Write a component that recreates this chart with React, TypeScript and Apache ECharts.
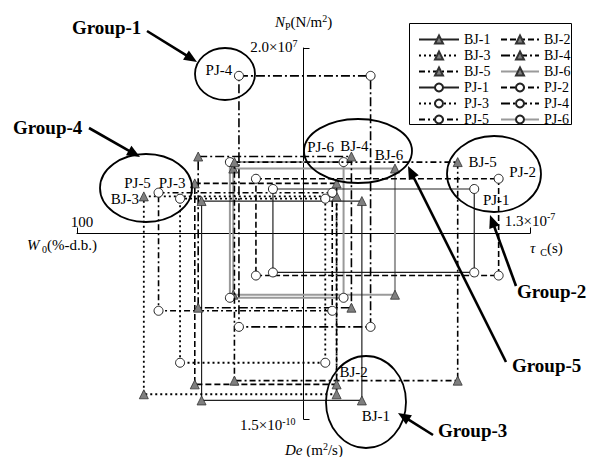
import React, { useEffect, useRef } from "react";
import * as echarts from "echarts";

// ---------- data ----------
const samples = ["BJ-1", "BJ-2", "BJ-3", "BJ-4", "BJ-5", "BJ-6", "PJ-1", "PJ-2", "PJ-3", "PJ-4", "PJ-5", "PJ-6"];
// initial moisture content W0 (%-d.b.) – left half-axis
const w0 = [45, 48, 70.5, 46.5, 30.5, 31, 13.5, 21, 54.5, 28.5, 64, 32.5];
// characteristic time tau_C (s) – right half-axis
const tauC = [3.35e-8, 1.9e-8, 1.9e-8, 2.75e-8, 8.85e-8, 5.25e-8, 9.8e-8, 1.12e-7, 1.25e-8, 3.85e-8, 1.65e-8, 2.3e-8];
// N_P (N/m2) – upper half-axis
const np = [3.5e6, 5.4e6, 4.0e6, 8.3e6, 7.7e6, 7.0e6, 4.8e6, 5.9e6, 3.75e6, 1.7e7, 4.4e6, 7.7e6];
// De (m2/s) – lower half-axis
const de = [1.35e-10, 1.22e-10, 1.3e-10, 6.0e-11, 1.19e-10, 4.95e-11, 3.15e-11, 3.4e-11, 1.045e-10, 7.55e-11, 6.25e-11, 5.2e-11];

// axis end values
const W0_MAX = 100;
const TAU_MAX = 1.3e-7;
const NP_MAX = 2.0e7;
const DE_MAX = 1.5e-10;

// tick labels (mantissa part, exponent)
const tickW0 = ["100", ""];
const tickTau = ["1.3×10", "-7"];
const tickNp = ["2.0×10", "7"];
const tickDe = ["1.5×10", "-10"];

const legendLeft = ["BJ-1", "BJ-3", "BJ-5", "PJ-1", "PJ-3", "PJ-5"];
const legendRight = ["BJ-2", "BJ-4", "BJ-6", "PJ-2", "PJ-4", "PJ-6"];

// ---------- styles / layout ----------
const FONT = '"Liberation Serif", "Times New Roman", serif';

const lineStyles: Record<string, any> = {
  "1": { color: "#222", width: 1.2, type: "solid" },
  "2": { color: "#000", width: 1.6, type: [6, 3] },
  "3": { color: "#000", width: 1.8, type: [2, 3] },
  "4": { color: "#000", width: 1.6, type: [9, 3, 2, 3] },
  "5": { color: "#000", width: 1.6, type: [6, 3, 2, 3] },
  "6": { color: "#9a9a9a", width: 2, type: "solid" },
};

// sample label: corner index (0 TL,1 TR,2 BR,3 BL) and offset of the text centre
const sampleLabels: Record<string, { corner: number; offset: [number, number] }> = {
  "PJ-4": { corner: 0, offset: [-20, -6] },
  "PJ-5": { corner: 0, offset: [-21, -10] },
  "PJ-3": { corner: 0, offset: [-8, -16] },
  "BJ-3": { corner: 0, offset: [-19, 3] },
  "PJ-6": { corner: 1, offset: [-23, -15] },
  "BJ-4": { corner: 1, offset: [3, -11] },
  "BJ-6": { corner: 1, offset: [-6, -14] },
  "BJ-5": { corner: 1, offset: [25, 0] },
  "PJ-2": { corner: 1, offset: [24, -7] },
  "PJ-1": { corner: 1, offset: [22, 11] },
  "BJ-2": { corner: 2, offset: [17, -12] },
  "BJ-1": { corner: 2, offset: [14, 16] },
};

const groupEllipses = [
  { cx: 225, cy: 74, rx: 30, ry: 26 },
  { cx: 146, cy: 188, rx: 46, ry: 34 },
  { cx: 358, cy: 151, rx: 54, ry: 32 },
  { cx: 494, cy: 174, rx: 47, ry: 38 },
  { cx: 366, cy: 402, rx: 40, ry: 46 },
];

const groupTexts = [
  { text: "Group-1", x: 72, y: 27, from: [147, 31], to: [197, 62] },
  { text: "Group-4", x: 13, y: 127, from: [89, 128], to: [140, 157] },
  { text: "Group-2", x: 517, y: 291, from: [516, 286], to: [490, 215] },
  { text: "Group-5", x: 512, y: 365, from: [506, 362], to: [408, 166] },
  { text: "Group-3", x: 438, y: 430, from: [433, 435], to: [398, 413] },
];

function corners(i: number): number[][] {
  const xl = -w0[i] / W0_MAX;
  const xr = tauC[i] / TAU_MAX;
  const yt = np[i] / NP_MAX;
  const yb = -de[i] / DE_MAX;
  return [
    [xl, yt],
    [xr, yt],
    [xr, yb],
    [xl, yb],
  ];
}

function arrow(x1: number, y1: number, x2: number, y2: number) {
  const dx = x2 - x1;
  const dy = y2 - y1;
  const L = Math.hypot(dx, dy);
  const ux = dx / L;
  const uy = dy / L;
  const hl = 13;
  const hw = 5.5;
  const bx = x2 - ux * hl;
  const by = y2 - uy * hl;
  return [
    { type: "line", z: 20, shape: { x1, y1, x2: bx + ux, y2: by + uy }, style: { stroke: "#000", lineWidth: 2.6 } },
    {
      type: "polygon",
      z: 20,
      shape: { points: [[x2, y2], [bx - uy * hw, by + ux * hw], [bx + uy * hw, by - ux * hw]] },
      style: { fill: "#000" },
    },
  ];
}

const richBase = {
  t: { fontFamily: FONT, fontSize: 15, color: "#000", lineHeight: 18 },
  i: { fontFamily: FONT, fontSize: 15, fontStyle: "italic", color: "#000", lineHeight: 18 },
  sup: { fontFamily: FONT, fontSize: 10, color: "#000", verticalAlign: "top", lineHeight: 11 },
  sub: { fontFamily: FONT, fontSize: 10, color: "#000", verticalAlign: "bottom", lineHeight: 10 },
};

function richText(x: number, y: number, text: string, align: string) {
  return { type: "text", z: 20, x, y, style: { text, rich: richBase, align, verticalAlign: "middle" } };
}

export default function App() {
  const ref = useRef<HTMLDivElement>(null);

  useEffect(() => {
    if (!ref.current) return;
    const chart = echarts.init(ref.current, undefined, { renderer: "svg" });

    const series: any[] = samples.map((name, i) => {
      const isBJ = name.startsWith("BJ");
      const styleKey = name.slice(3);
      const c = corners(i);
      const lab = sampleLabels[name];
      const data: any[] = c.map((p, k) => {
        const item: any = { value: p };
        if (lab && lab.corner === k) {
          item.label = {
            show: true,
            position: "inside",
            offset: lab.offset,
            formatter: name,
            color: "#000",
            fontFamily: FONT,
            fontSize: 15,
          };
        }
        return item;
      });
      data.push({ value: c[0], symbol: "none" });
      return {
        type: "line",
        name,
        data,
        z: styleKey === "6" ? 2 : 3,
        symbol: isBJ ? "triangle" : "circle",
        symbolSize: 9,
        showSymbol: true,
        showAllSymbol: true,
        lineStyle: lineStyles[styleKey],
        itemStyle: isBJ
          ? { color: "#7f7f7f", borderColor: "#333", borderWidth: 0.8 }
          : { color: "#fff", borderColor: "#222", borderWidth: 1 },
        label: { show: false },
        emphasis: { disabled: true },
        silent: true,
      };
    });

    const legendCommon = {
      orient: "vertical",
      top: 27,
      itemHeight: 10,
      itemGap: 1,
      selectedMode: false,
      textStyle: { fontFamily: FONT, fontSize: 14, color: "#000", lineHeight: 15 },
    };

    const graphics: any[] = [
      {
        type: "rect",
        z: 1,
        shape: { x: 409.5, y: 23.5, width: 162, height: 101 },
        style: { fill: "none", stroke: "#000", lineWidth: 1 },
      },
      ...groupEllipses.map((e) => ({
        type: "ellipse",
        z: 15,
        shape: e,
        style: { fill: "none", stroke: "#000", lineWidth: 1.8 },
      })),
      ...groupTexts.flatMap((g) => [
        {
          type: "text",
          z: 20,
          x: g.x,
          y: g.y,
          style: {
            text: g.text,
            font: `bold 19px ${FONT}`,
            fill: "#000",
            align: "left",
            verticalAlign: "middle",
          },
        },
        ...arrow(g.from[0], g.from[1], g.to[0], g.to[1]),
      ]),
      richText(275, 22, "{i|N}{sub|P}{t|(N/m}{sup|2}{t|)}", "left"),
      richText(27, 245, "{i|W}{sub| 0}{t|(%-d.b.)}", "left"),
      richText(530, 248, "{i|τ}{sub|  C}{t|(s)}", "left"),
      richText(285, 450, "{i|De}{t| (m}{sup|2}{t|/s)}", "left"),
    ];

    const option: any = {
      animation: false,
      backgroundColor: "#fff",
      grid: { left: 77, right: 67, top: 48, bottom: 38, containLabel: false },
      xAxis: {
        type: "value",
        min: -1,
        max: 1,
        interval: 2,
        splitLine: { show: false },
        axisLine: { show: true, onZero: true, lineStyle: { color: "#000", width: 1 } },
        axisTick: { show: true, inside: true, length: 6, lineStyle: { color: "#000", width: 1 } },
        axisLabel: { show: false },
      },
      yAxis: {
        type: "value",
        min: -1,
        max: 1,
        interval: 2,
        splitLine: { show: false },
        axisLine: { show: true, onZero: true, lineStyle: { color: "#000", width: 1 } },
        axisTick: { show: true, inside: true, length: 6, lineStyle: { color: "#000", width: 1 } },
        axisLabel: { show: false },
      },
      legend: [
        { ...legendCommon, left: 413, itemWidth: 40, data: legendLeft },
        { ...legendCommon, left: 495, itemWidth: 38, data: legendRight },
      ],
      graphic: graphics,
      series,
    };

    chart.setOption(option);

    // tick labels at the ends of the four half-axes, placed through the axes' scales
    const px = (x: number, y: number) => chart.convertToPixel({ gridIndex: 0 }, [x, y]) as number[];
    const left = px(-1, 0);
    const right = px(1, 0);
    const top = px(0, 1);
    const bottom = px(0, -1);
    const tickGraphics = [
      richText(left[0] + 5, left[1] - 12, `{t|${tickW0[0]}}`, "center"),
      richText(right[0], right[1] - 13, `{t|${tickTau[0]}}{sup|${tickTau[1]}}`, "center"),
      richText(top[0] - 6, top[1] - 1, `{t|${tickNp[0]}}{sup|${tickNp[1]}}`, "right"),
      richText(bottom[0] - 8, bottom[1] + 6, `{t|${tickDe[0]}}{sup|${tickDe[1]}}`, "right"),
    ];
    chart.setOption({ graphic: [...graphics, ...tickGraphics] });

    return () => chart.dispose();
  }, []);

  return (
    <div
      ref={ref}
      style={{ position: "absolute", left: 0, top: 0, width: 597, height: 457, background: "#fff" }}
    />
  );
}
